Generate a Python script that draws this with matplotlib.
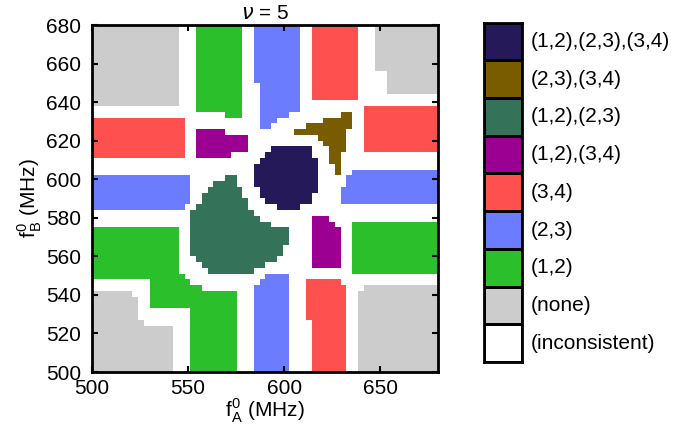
import numpy as np
import matplotlib
matplotlib.use('Agg')
import matplotlib.pyplot as plt
from matplotlib.colors import ListedColormap

# category names, index = code used in the map below
labels = ['(inconsistent)', '(none)', '(1,2)', '(2,3)', '(3,4)',
          '(1,2),(3,4)', '(1,2),(2,3)', '(2,3),(3,4)', '(1,2),(2,3),(3,4)']
colors = ['#ffffff', '#cccccc', '#2bbf2b', '#6b7cff', '#ff5050',
          '#9c0092', '#34725a', '#7a5c00', '#26195a']

# f_A axis / f_B axis range (MHz), map cells are 3 MHz
fa_range = (500, 680)
fb_range = (500, 680)

# map rows from f_B = 680 (top) down to 500, run length "code:count"
map_rows = [
    "1:15 0:3 2:8 0:2 3:8 0:2 4:8 0:3 1:11",
    "1:15 0:3 2:8 0:2 3:8 0:2 4:8 0:3 1:11",
    "1:15 0:3 2:8 0:2 3:8 0:2 4:8 0:3 1:11",
    "1:15 0:3 2:8 0:2 3:8 0:2 4:8 0:3 1:11",
    "1:15 0:3 2:8 0:2 3:8 0:2 4:8 0:3 1:11",
    "1:15 0:3 2:8 0:2 3:8 0:2 4:8 0:3 1:11",
    "1:15 0:3 2:8 0:2 3:8 0:2 4:8 0:3 1:11",
    "1:15 0:3 2:8 0:2 3:8 0:2 4:8 0:3 1:11",
    "1:15 0:3 2:8 0:2 3:8 0:2 4:8 0:5 1:9",
    "1:15 0:3 2:8 0:2 3:8 0:2 4:8 0:5 1:9",
    "1:15 0:3 2:8 0:3 3:7 0:2 4:8 0:5 1:9",
    "1:15 0:3 2:8 0:3 3:7 0:2 4:8 0:5 1:9",
    "1:15 0:3 2:8 0:3 3:7 0:2 4:8 0:14",
    "1:15 0:3 2:8 0:3 3:7 0:24",
    "0:18 2:8 0:3 3:7 0:11 4:13",
    "0:23 2:3 0:3 3:5 0:9 7:2 0:2 4:13",
    "4:16 0:13 3:3 0:8 7:5 0:2 4:13",
    "4:16 0:13 3:2 0:6 7:8 0:2 4:13",
    "4:16 0:2 5:5 0:12 7:9 0:3 4:13",
    "4:16 0:2 5:9 0:12 7:5 0:3 4:13",
    "4:16 0:2 5:9 0:13 7:4 0:3 4:13",
    "4:16 0:2 5:9 0:4 8:7 0:3 7:3 0:3 4:13",
    "4:16 0:2 5:6 0:6 8:8 0:3 7:2 0:17",
    "0:29 8:10 0:2 7:2 0:17",
    "0:28 8:11 0:3 7:1 0:17",
    "0:28 8:11 0:3 7:1 0:2 3:15",
    "3:17 0:6 6:2 0:3 8:11 0:5 3:16",
    "3:17 0:4 6:4 0:3 8:11 0:5 3:16",
    "3:17 0:3 6:6 0:3 8:10 0:4 3:17",
    "3:17 0:2 6:7 0:3 8:9 0:5 3:17",
    "3:17 0:2 6:8 0:3 8:8 0:5 3:17",
    "3:16 0:2 6:9 0:5 8:4 0:24",
    "0:17 6:11 0:32",
    "0:17 6:12 0:9 5:3 0:19",
    "0:17 6:14 0:7 5:4 0:3 2:15",
    "2:15 0:2 6:17 0:4 5:5 0:2 2:15",
    "2:15 0:2 6:17 0:4 5:5 0:2 2:15",
    "2:15 0:2 6:17 0:4 5:5 0:2 2:15",
    "2:15 0:2 6:16 0:5 5:5 0:2 2:15",
    "2:15 0:2 6:16 0:5 5:5 0:2 2:15",
    "2:15 0:3 6:14 0:6 5:5 0:2 2:15",
    "2:15 0:4 6:11 0:8 5:5 0:2 2:15",
    "2:15 0:5 6:8 0:17 2:15",
    "2:16 0:14 3:4 0:26",
    "0:10 2:7 0:12 3:5 0:3 4:6 0:17",
    "0:10 2:9 0:9 3:6 0:3 4:7 0:3 1:13",
    "1:7 0:3 2:15 0:3 3:6 0:3 4:7 0:2 1:14",
    "1:8 0:2 2:15 0:3 3:6 0:3 4:7 0:2 1:14",
    "1:8 0:2 2:15 0:3 3:6 0:3 4:7 0:2 1:14",
    "1:8 0:9 2:8 0:3 3:6 0:3 4:7 0:2 1:14",
    "1:8 0:9 2:8 0:3 3:6 0:3 4:7 0:2 1:14",
    "1:9 0:8 2:8 0:3 3:6 0:4 4:6 0:2 1:14",
    "1:14 0:3 2:8 0:3 3:6 0:4 4:6 0:2 1:14",
    "1:14 0:3 2:8 0:3 3:6 0:4 4:6 0:2 1:14",
    "1:14 0:3 2:8 0:3 3:6 0:4 4:6 0:2 1:14",
    "1:14 0:3 2:8 0:3 3:6 0:4 4:6 0:2 1:14",
    "1:14 0:3 2:8 0:3 3:6 0:4 4:6 0:2 1:14",
    "1:14 0:3 2:8 0:3 3:6 0:4 4:6 0:2 1:14",
    "1:14 0:3 2:8 0:3 3:6 0:4 4:6 0:2 1:14",
    "1:14 0:3 2:8 0:3 3:6 0:4 4:6 0:2 1:14",
]


def decode(row):
    out = []
    for tok in row.split():
        c, n = tok.split(':')
        out += [int(c)] * int(n)
    return out


grid = np.array([decode(r) for r in map_rows])

plt.rcParams['font.family'] = ['Liberation Sans', 'DejaVu Sans']
plt.rcParams['mathtext.fontset'] = 'dejavusans'

cmap = ListedColormap(colors)
fig = plt.figure(figsize=(6.75, 4.28), dpi=100)
ax = fig.add_axes([0.1363, 0.1308, 0.5126, 0.8107])
ax.imshow(grid, cmap=cmap, vmin=-0.5, vmax=8.5, interpolation='nearest',
          extent=[fa_range[0], fa_range[1], fb_range[0], fb_range[1]],
          origin='upper', aspect='auto')
ax.set_xlim(fa_range)
ax.set_ylim(fb_range)
ax.set_xticks([500, 550, 600, 650])
ax.set_yticks(np.arange(500, 681, 20))
ax.tick_params(direction='in', top=True, right=True, length=4, width=1.5,
               labelsize=15)
ax.tick_params(axis='x', pad=5)
ax.tick_params(axis='y', pad=8)
for s in ax.spines.values():
    s.set_linewidth(2)
ax.set_xlabel(r'f$_\mathregular{A}^\mathregular{0}$ (MHz)', fontsize=15, labelpad=-1)
ax.set_ylabel(r'f$_\mathregular{B}^\mathregular{0}$ (MHz)', fontsize=15, labelpad=1)
ax.set_title(r'$\nu$ = 5', fontsize=15, pad=4)

# legend as a column of colour boxes
lax = fig.add_axes([0.717, 0.1542, 0.0556, 0.7928])
codes = np.arange(len(labels))[::-1].reshape(-1, 1)
lax.pcolormesh(codes, cmap=cmap, vmin=-0.5, vmax=8.5, edgecolors='k', linewidth=2)
lax.set_xlim(0, 1)
lax.set_ylim(len(labels), 0)
lax.set_xticks([])
lax.set_yticks([])
for s in lax.spines.values():
    s.set_linewidth(2)
for i, c in enumerate(codes[:, 0]):
    lax.text(1.25, i + 0.5, labels[c], fontsize=15, va='center', ha='left',
             transform=lax.transData, clip_on=False)

fig.savefig('out.png', dpi=100)
